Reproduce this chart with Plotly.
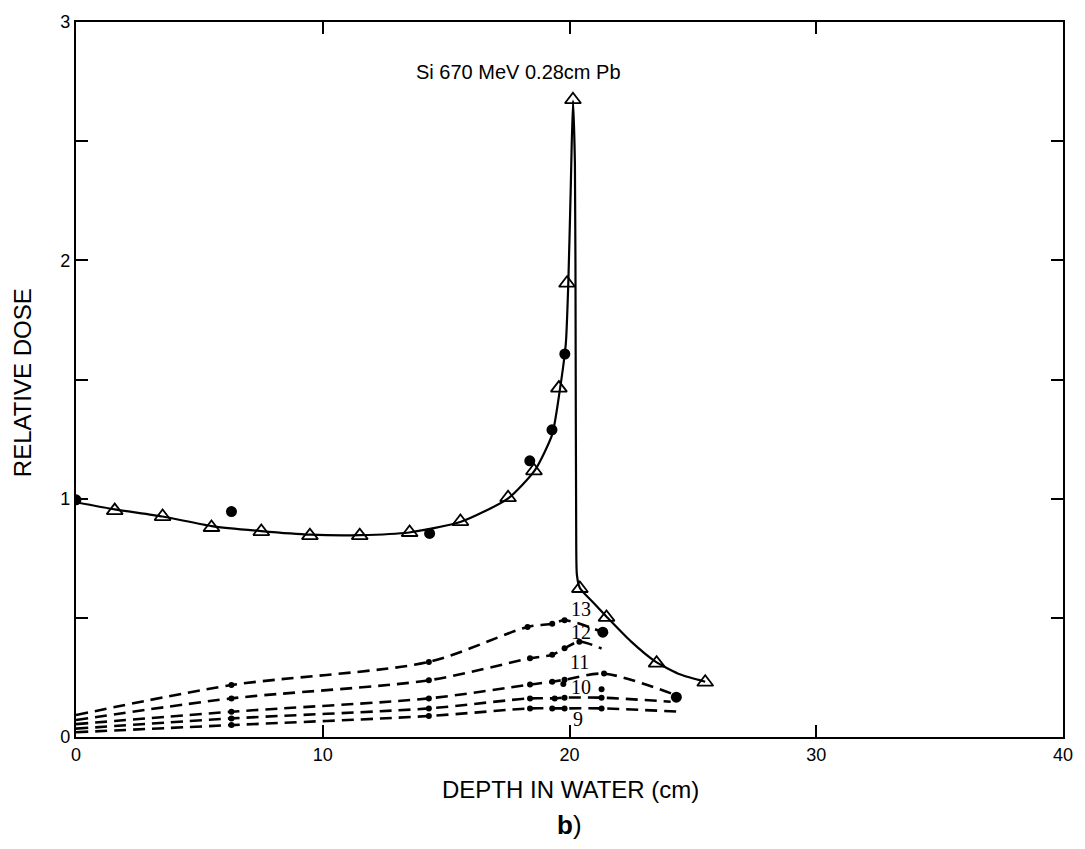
import plotly.graph_objects as go

# ---- data ----
# smooth solid curve (total dose)
curve_x = [0.0, 1.57, 3.5, 5.5, 7.5, 9.5, 11.5, 13.5, 15.6, 17.5, 18.6, 19.3, 19.6, 19.85, 19.95, 20.05, 20.14,
           20.22, 20.25, 20.27, 20.3, 20.42, 21.0, 21.5, 22.5, 23.5, 24.5, 25.5]
curve_y = [0.985, 0.955, 0.925, 0.885, 0.864, 0.849, 0.847, 0.858, 0.903, 1.0, 1.12, 1.27, 1.45, 1.65, 1.90, 2.30, 2.67,
           2.40, 1.60, 0.90, 0.68, 0.625, 0.56, 0.505, 0.40, 0.315, 0.262, 0.232]

# open triangles
tri_x = [1.57, 3.51, 5.49, 7.51, 9.48, 11.5, 13.52, 15.58, 17.51, 18.56, 19.57, 19.9, 20.14, 20.42, 21.5, 23.53, 25.5]
tri_y = [0.95, 0.925, 0.879, 0.862, 0.845, 0.845, 0.858, 0.904, 1.004, 1.117, 1.464, 1.904, 2.674, 0.623, 0.502, 0.31, 0.23]

# filled circles
dot_x = [0.0, 6.3, 14.33, 18.39, 19.29, 19.81, 21.35, 24.33]
dot_y = [0.995, 0.946, 0.854, 1.159, 1.289, 1.607, 0.44, 0.167]

# dashed fragment curves (labelled by charge)
frag_labels = ["13", "12", "11", "10", "9"]
frag13_x = [0.0, 6.3, 14.3, 18.3, 19.3, 19.8, 21.35]
frag13_y = [0.092, 0.218, 0.315, 0.462, 0.475, 0.49, 0.44]
frag12_x = [0.0, 6.3, 14.3, 18.4, 19.3, 19.8, 20.4, 21.3]
frag12_y = [0.071, 0.162, 0.238, 0.33, 0.345, 0.372, 0.40, 0.371]
frag11_x = [0.0, 6.3, 14.3, 18.4, 19.3, 19.8, 21.4, 24.33]
frag11_y = [0.054, 0.106, 0.162, 0.22, 0.232, 0.24, 0.266, 0.175]
frag10_x = [0.0, 6.3, 14.3, 18.4, 19.4, 19.8, 21.3, 24.1]
frag10_y = [0.035, 0.078, 0.12, 0.162, 0.162, 0.165, 0.165, 0.148]
frag9_x = [0.0, 6.3, 14.3, 18.4, 19.3, 19.8, 21.3, 24.5]
frag9_y = [0.02, 0.05, 0.088, 0.12, 0.12, 0.12, 0.12, 0.106]
# small measured points off the dashed curves
stray_x = [19.75, 21.3]
stray_y = [0.222, 0.2]

label_x = [20.45, 20.45, 20.4, 20.45, 20.35]
label_y = [0.538, 0.44, 0.315, 0.21, 0.075]

frags = [(frag13_x, frag13_y), (frag12_x, frag12_y), (frag11_x, frag11_y),
         (frag10_x, frag10_y), (frag9_x, frag9_y)]

fig = go.Figure()

for fx, fy in frags:
    fig.add_trace(go.Scatter(x=fx, y=fy, mode="lines", line=dict(color="black", width=2.6, dash="12px,7px",
                                                                 shape="spline", smoothing=0.8),
                             hoverinfo="skip", showlegend=False))
    fig.add_trace(go.Scatter(x=fx[1:-1], y=fy[1:-1], mode="markers",
                             marker=dict(color="black", size=6), showlegend=False))

fig.add_trace(go.Scatter(x=stray_x, y=stray_y, mode="markers", marker=dict(color="black", size=6), showlegend=False))

fig.add_trace(go.Scatter(x=curve_x, y=curve_y, mode="lines",
                         line=dict(color="black", width=2.2, shape="spline", smoothing=0.6), showlegend=False))
fig.add_trace(go.Scatter(x=tri_x, y=tri_y, mode="markers",
                         marker=dict(symbol="triangle-up-open", size=14, color="black", line=dict(width=1.8)),
                         showlegend=False))
fig.add_trace(go.Scatter(x=dot_x, y=dot_y, mode="markers",
                         marker=dict(symbol="circle", size=11, color="black"), showlegend=False))

for t, lx, ly in zip(frag_labels, label_x, label_y):
    fig.add_annotation(x=lx, y=ly, text=t, showarrow=False,
                       font=dict(family="Liberation Serif", size=20, color="black"))

fig.add_annotation(x=(520 - 76) / 991, y=(737 - 70) / 717, xref="paper", yref="paper", text="Si 670 MeV 0.28cm Pb",
                   xanchor="center", yanchor="middle",
                   showarrow=False, font=dict(family="Liberation Sans", size=20, color="black"))
fig.add_annotation(x=(573 - 76) / 991, y=-(790 - 737) / 717, xref="paper", yref="paper",
                   text="DEPTH IN WATER (cm)", showarrow=False, xanchor="center", yanchor="middle",
                   font=dict(family="Liberation Sans", size=24, color="black"))
fig.add_annotation(x=(571 - 76) / 991, y=-(825 - 737) / 717, xref="paper", yref="paper",
                   text="<b>b</b>)", showarrow=False, xanchor="center", yanchor="middle",
                   font=dict(family="Liberation Sans", size=26, color="black"))
fig.add_annotation(x=-(76 - 23) / 991, y=(737 - 382) / 717, xref="paper", yref="paper",
                   text="RELATIVE DOSE", textangle=-90, showarrow=False, xanchor="center", yanchor="middle",
                   font=dict(family="Liberation Sans", size=24, color="black"))

axis_common = dict(showgrid=False, zeroline=False, showline=True, linecolor="black", linewidth=2.2,
                   mirror="ticks", ticks="inside", ticklen=12, tickwidth=1.6, tickcolor="black",
                   tickfont=dict(family="Liberation Sans", size=18, color="black"))

fig.update_xaxes(range=[0, 40], tickvals=[0, 10, 20, 30, 40], **axis_common)
fig.update_yaxes(range=[0, 3], tickvals=[0, 1, 2, 3],
                 minor=dict(tickvals=[0.5, 1.5, 2.5], ticks="inside", ticklen=12, tickwidth=1.6, tickcolor="black"),
                 **axis_common)

fig.update_layout(width=1085, height=849, margin=dict(l=76, r=18, t=20, b=112),
                  paper_bgcolor="white", plot_bgcolor="white", showlegend=False)

fig.write_html("out.html")
